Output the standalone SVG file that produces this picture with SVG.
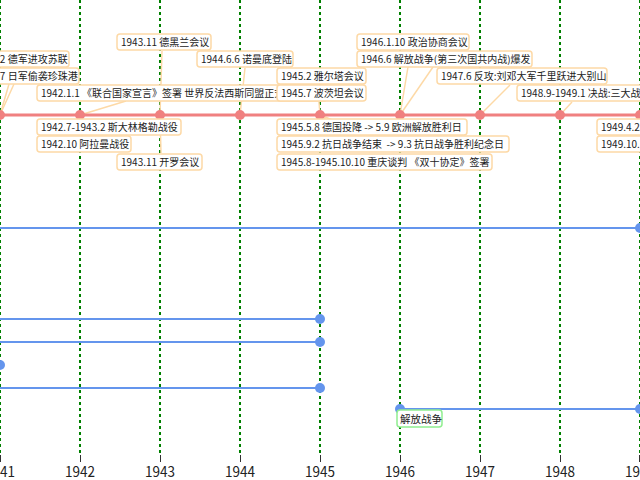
<svg xmlns="http://www.w3.org/2000/svg" width="640" height="480" viewBox="0 0 640 480">
<style>
text{font-family:"Noto Sans CJK SC","Noto Sans",sans-serif;fill:#222}
.grid{stroke:#008000;stroke-width:2;stroke-dasharray:3 3}
.tick{stroke:#333;stroke-width:1}
.yr{font-size:14.5px;text-anchor:middle}
.lb rect{fill:#fff;stroke:#fdd9a6;stroke-width:1.5}
.lb text{font-size:10px}
.con line{stroke:#fdd9a6;stroke-width:1.5}
.red{stroke:#f08080;stroke-width:3}
.rdot{fill:#f08080}
.blue{stroke:#6495ed;stroke-width:2}
.bdot{fill:#6495ed}
</style>
<rect width="640" height="480" fill="#fff"/>
<g id="grid">
<line class="grid" x1="0" y1="0" x2="0" y2="454"/>
<line class="grid" x1="80" y1="0" x2="80" y2="454"/>
<line class="grid" x1="160" y1="0" x2="160" y2="454"/>
<line class="grid" x1="240" y1="0" x2="240" y2="454"/>
<line class="grid" x1="320" y1="0" x2="320" y2="454"/>
<line class="grid" x1="400" y1="0" x2="400" y2="454"/>
<line class="grid" x1="480" y1="0" x2="480" y2="454"/>
<line class="grid" x1="560" y1="0" x2="560" y2="454"/>
<line class="grid" x1="640" y1="0" x2="640" y2="454"/>
</g>
<g id="axis">
<line class="tick" x1="0.5" y1="455" x2="0.5" y2="462"/>
<line class="tick" x1="80.5" y1="455" x2="80.5" y2="462"/>
<line class="tick" x1="160.5" y1="455" x2="160.5" y2="462"/>
<line class="tick" x1="240.5" y1="455" x2="240.5" y2="462"/>
<line class="tick" x1="320.5" y1="455" x2="320.5" y2="462"/>
<line class="tick" x1="400.5" y1="455" x2="400.5" y2="462"/>
<line class="tick" x1="480.5" y1="455" x2="480.5" y2="462"/>
<line class="tick" x1="560.5" y1="455" x2="560.5" y2="462"/>
<line class="tick" x1="639.5" y1="455" x2="639.5" y2="462"/>
<text class="yr" x="0" y="477" textLength="30" lengthAdjust="spacingAndGlyphs">1941</text>
<text class="yr" x="80" y="477" textLength="30" lengthAdjust="spacingAndGlyphs">1942</text>
<text class="yr" x="160" y="477" textLength="30" lengthAdjust="spacingAndGlyphs">1943</text>
<text class="yr" x="240" y="477" textLength="30" lengthAdjust="spacingAndGlyphs">1944</text>
<text class="yr" x="320" y="477" textLength="30" lengthAdjust="spacingAndGlyphs">1945</text>
<text class="yr" x="400" y="477" textLength="30" lengthAdjust="spacingAndGlyphs">1946</text>
<text class="yr" x="480" y="477" textLength="30" lengthAdjust="spacingAndGlyphs">1947</text>
<text class="yr" x="560" y="477" textLength="30" lengthAdjust="spacingAndGlyphs">1948</text>
<text class="yr" x="640" y="477" textLength="30" lengthAdjust="spacingAndGlyphs">1949</text>
</g>
<g id="periods">
<line class="blue" x1="0" y1="228" x2="640" y2="228"/>
<circle class="bdot" cx="640" cy="228" r="5"/>
<line class="blue" x1="0" y1="319" x2="320" y2="319"/>
<circle class="bdot" cx="320" cy="319" r="5"/>
<line class="blue" x1="0" y1="342" x2="320" y2="342"/>
<circle class="bdot" cx="320" cy="342" r="5"/>
<circle class="bdot" cx="0" cy="365" r="5"/>
<line class="blue" x1="0" y1="388" x2="320" y2="388"/>
<circle class="bdot" cx="320" cy="388" r="5"/>
<line class="blue" x1="400" y1="409" x2="640" y2="409"/>
<circle class="bdot" cx="400" cy="409" r="5"/>
<circle class="bdot" cx="640" cy="409" r="5"/>
</g>
<g id="period-label">
<rect x="397" y="410" width="45" height="17" rx="3" fill="#fff" stroke="#90ee90" stroke-width="1.5"/>
<text x="400" y="423" style="font-size:10.5px">解放战争</text>
</g>
<g class="con" id="connectors">
<line x1="0" y1="115" x2="9" y2="84"/>
<line x1="0" y1="115" x2="14" y2="84"/>
<line x1="80" y1="115" x2="126" y2="101"/>
<line x1="80" y1="115" x2="82" y2="136"/>
<line x1="160" y1="115" x2="162" y2="51"/>
<line x1="160" y1="115" x2="161" y2="153"/>
<line x1="240" y1="115" x2="245" y2="68"/>
<line x1="320" y1="115" x2="319" y2="102"/>
<line x1="320" y1="115" x2="370" y2="135"/>
<line x1="320" y1="115" x2="370" y2="152"/>
<line x1="400" y1="115" x2="408" y2="67"/>
<line x1="400" y1="115" x2="433" y2="67"/>
<line x1="480" y1="115" x2="510" y2="85"/>
<line x1="560" y1="115" x2="572" y2="102"/>
<line x1="640" y1="115" x2="636" y2="136"/>
</g>
<g id="timeline">
<line class="red" x1="0" y1="115" x2="640" y2="115"/>
<circle class="rdot" cx="0" cy="115" r="5"/>
<circle class="rdot" cx="80" cy="115" r="5"/>
<circle class="rdot" cx="160" cy="115" r="5"/>
<circle class="rdot" cx="240" cy="115" r="5"/>
<circle class="rdot" cx="320" cy="115" r="5"/>
<circle class="rdot" cx="400" cy="115" r="5"/>
<circle class="rdot" cx="480" cy="115" r="5"/>
<circle class="rdot" cx="560" cy="115" r="5"/>
<circle class="rdot" cx="640" cy="115" r="5"/>
</g>
<g class="lb" id="e1941a"><rect x="-43" y="51" width="112" height="16" rx="3"/><text x="-39" y="63">1941.6.22 德军进攻苏联</text></g>
<g class="lb" id="e1941b"><rect x="-43" y="68" width="122" height="16" rx="3"/><text x="-39" y="80">1941.12.7 日军偷袭珍珠港</text></g>
<g class="lb" id="e1942a"><rect x="37" y="85" width="290" height="16" rx="3"/><text x="41" y="97">1942.1.1 《联合国家宣言》签署 世界反法西斯同盟正式形成</text></g>
<g class="lb" id="e1942b"><rect x="37" y="119" width="144" height="16" rx="3"/><text x="41" y="131">1942.7-1943.2 斯大林格勒战役</text></g>
<g class="lb" id="e1942c"><rect x="37" y="136" width="94" height="16" rx="3"/><text x="41" y="148">1942.10 阿拉曼战役</text></g>
<g class="lb" id="e1943a"><rect x="117" y="34" width="94" height="16" rx="3"/><text x="121" y="46">1943.11 德黑兰会议</text></g>
<g class="lb" id="e1943b"><rect x="117" y="154" width="85" height="16" rx="3"/><text x="121" y="166">1943.11 开罗会议</text></g>
<g class="lb" id="e1944"><rect x="197" y="51" width="96" height="16" rx="3"/><text x="201" y="63">1944.6.6 诺曼底登陆</text></g>
<g class="lb" id="e1945a"><rect x="277" y="68" width="89" height="16" rx="3"/><text x="281" y="80">1945.2 雅尔塔会议</text></g>
<g class="lb" id="e1945b"><rect x="277" y="85" width="89" height="16" rx="3"/><text x="281" y="97">1945.7 波茨坦会议</text></g>
<g class="lb" id="e1945c"><rect x="277" y="119" width="190" height="16" rx="3"/><text x="281" y="131">1945.5.8 德国投降 -&gt; 5.9 欧洲解放胜利日</text></g>
<g class="lb" id="e1945d"><rect x="277" y="136" width="232" height="16" rx="3"/><text x="281" y="148" xml:space="preserve">1945.9.2 抗日战争结束  -&gt; 9.3 抗日战争胜利纪念日</text></g>
<g class="lb" id="e1945e"><rect x="277" y="154" width="215" height="16" rx="3"/><text x="281" y="166">1945.8-1945.10.10 重庆谈判 《双十协定》签署</text></g>
<g class="lb" id="e1946a"><rect x="357" y="34" width="112" height="16" rx="3"/><text x="361" y="46">1946.1.10 政治协商会议</text></g>
<g class="lb" id="e1946b"><rect x="357" y="51" width="175" height="16" rx="3"/><text x="361" y="63">1946.6 解放战争(第三次国共内战)爆发</text></g>
<g class="lb" id="e1947"><rect x="437" y="68" width="170" height="16" rx="3"/><text x="441" y="80">1947.6 反攻:刘邓大军千里跃进大别山</text></g>
<g class="lb" id="e1948"><rect x="517" y="85" width="150" height="16" rx="3"/><text x="521" y="97">1948.9-1949.1 决战:三大战役</text></g>
<g class="lb" id="e1949a"><rect x="597" y="119" width="120" height="16" rx="3"/><text x="601" y="131">1949.4.23 解放南京</text></g>
<g class="lb" id="e1949b"><rect x="597" y="136" width="150" height="16" rx="3"/><text x="601" y="148">1949.10.1 中华人民共和国成立</text></g>
</svg>
